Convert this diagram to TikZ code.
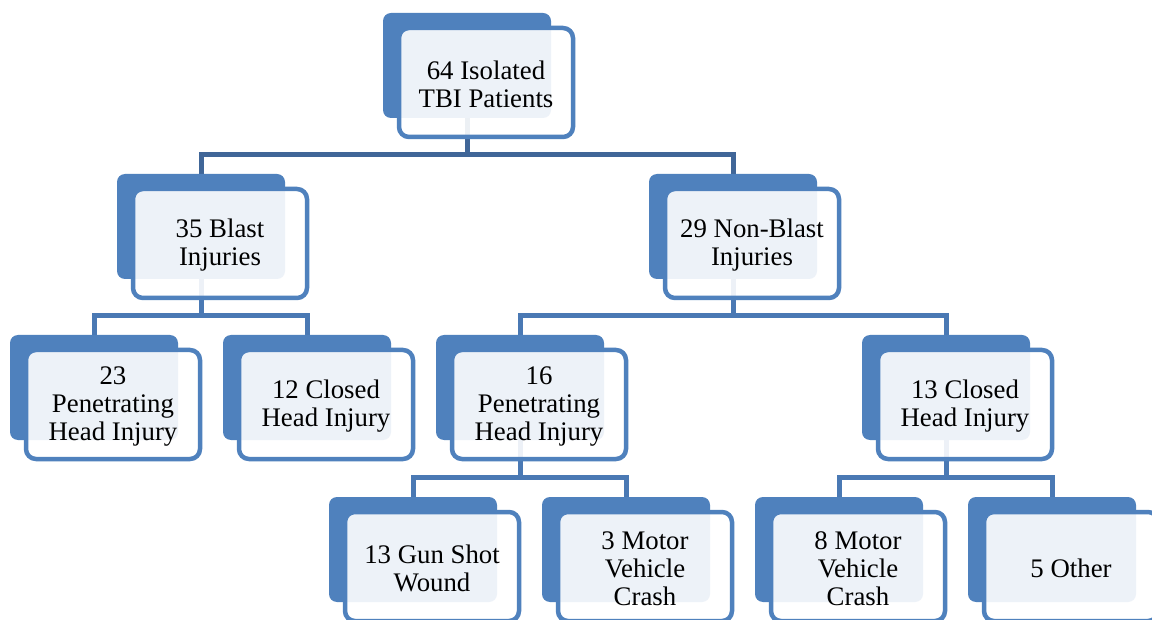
\documentclass[tikz,border=0pt]{standalone}
\usepackage{fontspec}
\setmainfont{Liberation Serif}
\usetikzlibrary{calc}
\pgfdeclarelayer{bottom}
\pgfdeclarelayer{background}
\pgfsetlayers{bottom,background,main}
\definecolor{boxblue}{RGB}{79,129,189}
\definecolor{conntop}{RGB}{64,102,152}
\definecolor{connlow}{RGB}{74,121,180}
\tikzset{
  backbox/.style={rectangle, rounded corners=8pt, fill=boxblue, draw=none,
    minimum width=168pt, minimum height=105pt, inner sep=0pt},
  frontbox/.style={rectangle, rounded corners=10pt, draw=boxblue, line width=4.5pt,
    fill=white, fill opacity=0.9,
    minimum width=174pt, minimum height=109pt, inner sep=0pt},
  label/.style={inner sep=0pt, align=center, text=black,
    font=\fontsize{26.8}{28}\selectfont},
  conn/.style={line width=5pt, line join=miter},
}
\newcommand\obox[4]{%
  \node[backbox] (#1) at (#2+84, #3+52.5) {};
  \node[frontbox] (#1f) at (#2+103, #3+69.5) {};
  \node[label] (#1t) at (#2+103, #3+71.5) {#4};
}
\begin{document}
\begin{tikzpicture}[x=1pt,y=-1pt]
\path[use as bounding box] (0,0) rectangle (1152,620);
\begin{pgfonlayer}{bottom}
\fill[white] (0,0) rectangle (1152,620);
\end{pgfonlayer}
\clip (0,0) rectangle (1152,620);
% level 1
\obox{top}{383}{13}{64 Isolated\\TBI Patients}
% level 2
\obox{blast}{117}{174}{35 Blast\\Injuries}
\obox{nonblast}{649}{174}{29 Non-Blast\\Injuries}
% level 3
\obox{pena}{10}{335}{23\\Penetrating\\Head Injury}
\obox{closeda}{223}{335}{12 Closed\\Head Injury}
\obox{penb}{436}{335}{16\\Penetrating\\Head Injury}
\obox{closedb}{862}{335}{13 Closed\\Head Injury}
% level 4
\obox{gun}{329}{497}{13 Gun Shot\\Wound}
\obox{mvca}{542}{497}{3 Motor\\Vehicle\\Crash}
\obox{mvcb}{755}{497}{8 Motor\\Vehicle\\Crash}
\obox{other}{968}{497}{5 Other}
\begin{pgfonlayer}{background}
  \foreach \c in {blast,nonblast}
    \draw[conn, draw=conntop] (top.south) |- ([yshift=19pt]\c.north) -- (\c.north);
  \foreach \c in {pena,closeda}
    \draw[conn, draw=connlow] (blast.south) |- ([yshift=19pt]\c.north) -- (\c.north);
  \foreach \c in {penb,closedb}
    \draw[conn, draw=connlow] (nonblast.south) |- ([yshift=19pt]\c.north) -- (\c.north);
  \foreach \c in {gun,mvca}
    \draw[conn, draw=connlow] (penb.south) |- ([yshift=19pt]\c.north) -- (\c.north);
  \foreach \c in {mvcb,other}
    \draw[conn, draw=connlow] (closedb.south) |- ([yshift=19pt]\c.north) -- (\c.north);
\end{pgfonlayer}
\end{tikzpicture}
\end{document}
